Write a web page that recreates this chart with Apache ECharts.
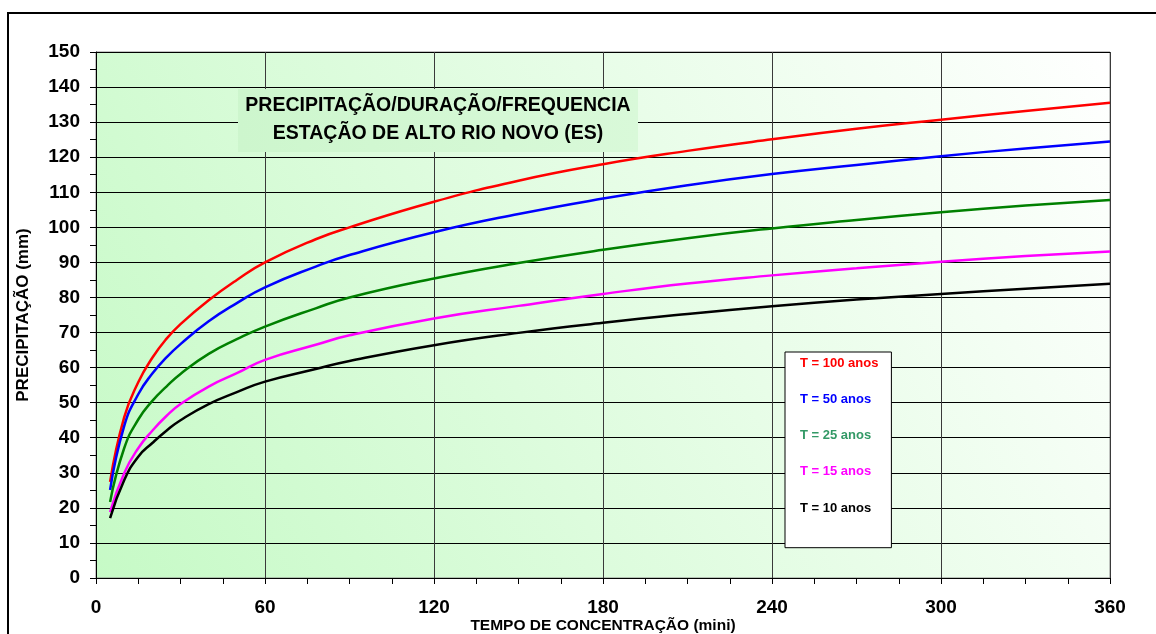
<!DOCTYPE html>
<html>
<head>
<meta charset="utf-8">
<script src="https://cdn.jsdelivr.net/npm/echarts@6/dist/echarts.min.js"></script>
<style>
  html, body { margin: 0; padding: 0; background: #fff; overflow: hidden; }
  #frame {
    position: absolute; left: 7px; top: 12px;
    width: 1300px; height: 800px;
    border: 2px solid #000;
  }
  #chart { position: absolute; left: 0; top: 0; width: 1156px; height: 634px; }
</style>
</head>
<body>
<div id="frame"></div>
<div id="chart"></div>
<script>
// duração (min)
const tempos = [5, 10, 15, 20, 25, 30, 40, 50, 60, 78, 90, 120, 150, 180, 210, 240, 270, 300, 330, 360]

// precipitação (mm)
const t100 = [27.4, 45.8, 55.8, 62.8, 68.2, 72.4, 79.2, 85.0, 90.0, 96.6, 100.0, 107.3, 113.3, 118.0, 121.8, 125.1, 128.1, 130.7, 133.2, 135.5]
const t50  = [25.1, 43.3, 52.4, 58.3, 62.9, 66.7, 73.2, 78.4, 82.9, 88.8, 92.1, 98.6, 103.8, 108.2, 112.0, 115.2, 117.8, 120.3, 122.5, 124.5]
const t25  = [21.7, 37.0, 45.2, 50.5, 54.6, 58.2, 63.9, 68.1, 71.7, 76.9, 80.0, 85.4, 89.8, 93.6, 96.9, 99.7, 102.1, 104.3, 106.2, 107.8]
const t15  = [18.8, 29.9, 37.0, 42.0, 46.2, 49.6, 54.6, 58.4, 62.2, 66.5, 69.2, 74.0, 77.6, 81.0, 84.0, 86.3, 88.3, 90.2, 91.8, 93.1]
const t10  = [17.1, 27.9, 34.6, 38.5, 42.0, 45.0, 49.6, 53.0, 56.0, 59.6, 61.9, 66.4, 69.9, 72.8, 75.3, 77.5, 79.4, 81.0, 82.5, 83.9]

const nomes = ['T = 100 anos', 'T = 50 anos', 'T = 25 anos', 'T = 15 anos', 'T = 10 anos']
const cores = ['#ff0000', '#0000ff', '#008000', '#ff00ff', '#000000']
const coresLegenda = ['#ff0000', '#0000ff', '#339966', '#ff00ff', '#000000']
const valores = [t100, t50, t25, t15, t10]

const font = '"Liberation Sans", Arial, sans-serif'

const chart = echarts.init(document.getElementById('chart'))

const option = {
  animation: false,
  backgroundColor: 'transparent',
  textStyle: { fontFamily: font },
  title: {
    text: 'PRECIPITAÇÃO/DURAÇÃO/FREQUENCIA\nESTAÇÃO DE ALTO RIO NOVO (ES)',
    left: 432,
    top: 89,
    textAlign: 'center',
    padding: [3, 6, 4, 6],
    backgroundColor: new echarts.graphic.LinearGradient(0, 0, 1, 0, [
      { offset: 0, color: '#cdf6cd' },
      { offset: 1, color: '#d9f9d9' }
    ]),
    textStyle: {
      fontFamily: font,
      fontSize: 19.5,
      fontWeight: 'bold',
      color: '#000',
      lineHeight: 28,
      width: 388
    }
  },
  legend: {
    orient: 'vertical',
    left: 785,
    top: 352,
    padding: [4, 13, 33, 10],
    itemGap: 22.8,
    itemWidth: 0,
    itemHeight: 14,
    icon: 'none',
    backgroundColor: '#ffffff',
    borderColor: '#000',
    borderWidth: 1,
    selectedMode: false,
    data: nomes.map((n, i) => ({
      name: n,
      textStyle: { color: coresLegenda[i], fontWeight: 'bold', fontSize: 13, fontFamily: font }
    }))
  },
  grid: {
    left: 96,
    right: 46,
    top: 52,
    bottom: 56,
    outerBoundsMode: 'none',
    containLabel: false,
    show: true,
    borderColor: '#888',
    borderWidth: 1,
    backgroundColor: new echarts.graphic.LinearGradient(0, 1, 1, 0, [
      { offset: 0, color: '#c6fac6' },
      { offset: 1, color: '#ffffff' }
    ])
  },
  xAxis: {
    type: 'value',
    min: 0,
    max: 360,
    interval: 60,
    name: 'TEMPO DE CONCENTRAÇÃO (mini)',
    nameLocation: 'middle',
    nameGap: 40,
    nameMoveOverlap: false,
    nameTextStyle: { fontFamily: font, fontSize: 15.5, fontWeight: 'bold', color: '#000' },
    axisLine: { lineStyle: { color: '#000', width: 1 } },
    axisTick: { show: true, length: 6, lineStyle: { color: '#000' } },
    minorTick: { show: true, splitNumber: 4, length: 6, lineStyle: { color: '#000' } },
    axisLabel: { margin: 20, fontFamily: font, fontSize: 19, fontWeight: 'bold', color: '#000' },
    splitLine: { show: true, lineStyle: { color: '#3a3a3a', width: 1 } }
  },
  yAxis: {
    type: 'value',
    min: 0,
    max: 150,
    interval: 10,
    name: 'PRECIPITAÇÃO (mm)',
    nameLocation: 'middle',
    nameGap: 64,
    nameMoveOverlap: false,
    nameTextStyle: { fontFamily: font, fontSize: 17, fontWeight: 'bold', color: '#000' },
    axisLine: { show: true, lineStyle: { color: '#000', width: 1 } },
    axisTick: { show: true, length: 6, lineStyle: { color: '#000' } },
    minorTick: { show: true, splitNumber: 2, length: 6, lineStyle: { color: '#000' } },
    axisLabel: { margin: 16, fontFamily: font, fontSize: 19, fontWeight: 'bold', color: '#000' },
    splitLine: { show: true, lineStyle: { color: '#000', width: 1 } }
  },
  series: nomes.map((n, i) => ({
    name: n,
    type: 'line',
    smooth: true,
    showSymbol: false,
    symbol: 'none',
    color: cores[i],
    lineStyle: { color: cores[i], width: 2.5 },
    data: tempos.map((t, k) => [t, valores[i][k]])
  }))
}

chart.setOption(option)
</script>
</body>
</html>
